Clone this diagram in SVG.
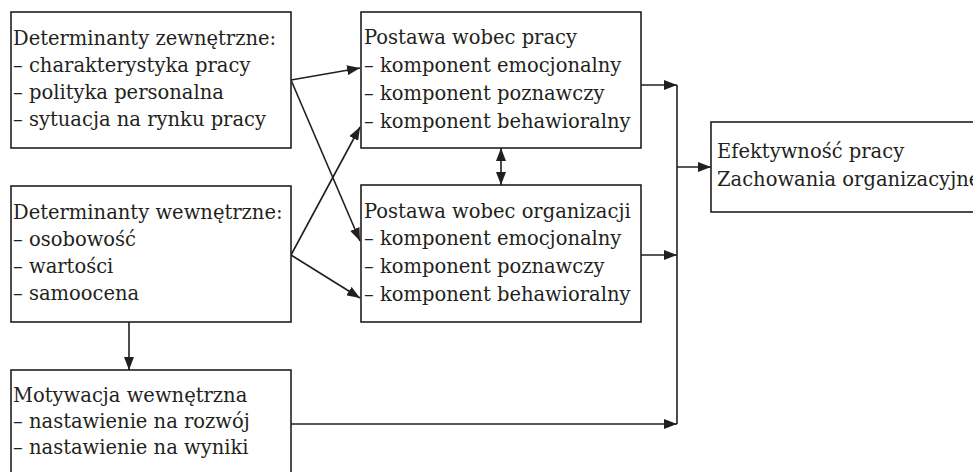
<svg xmlns="http://www.w3.org/2000/svg" width="973" height="472" viewBox="0 0 973 472">
<style>
.box{fill:#fff;stroke:#231f20;stroke-width:1.6}
.t{font-family:"DejaVu Serif","Liberation Serif",serif;font-size:19.5px;fill:#231f20}
.c{fill:none;stroke:#231f20;stroke-width:1.6}
</style>
<defs>
<marker id="ah" viewBox="0 0 13 10" refX="13" refY="5" markerWidth="13" markerHeight="10" markerUnits="userSpaceOnUse" orient="auto-start-reverse">
<path d="M0,0 L13,5 L0,10 z" fill="#231f20"/>
</marker>
</defs>
<rect width="973" height="472" fill="#fff"/>
<g id="connectors">
<line class="c" x1="291" y1="80" x2="360" y2="68" marker-end="url(#ah)"/>
<line class="c" x1="291" y1="80" x2="360" y2="241" marker-end="url(#ah)"/>
<line class="c" x1="291" y1="255" x2="360" y2="127" marker-end="url(#ah)"/>
<line class="c" x1="291" y1="255" x2="360" y2="298" marker-end="url(#ah)"/>
<line class="c" x1="129" y1="322" x2="129" y2="370" marker-end="url(#ah)"/>
<line class="c" x1="501" y1="148" x2="501" y2="185" marker-start="url(#ah)" marker-end="url(#ah)"/>
<line class="c" x1="641" y1="85" x2="677" y2="85" marker-end="url(#ah)"/>
<line class="c" x1="641" y1="255" x2="677" y2="255" marker-end="url(#ah)"/>
<line class="c" x1="291" y1="424" x2="677" y2="424" marker-end="url(#ah)"/>
<line class="c" x1="677" y1="85" x2="677" y2="424"/>
<line class="c" x1="677" y1="167" x2="711" y2="167" marker-end="url(#ah)"/>
</g>
<g id="zewnetrzne">
<rect class="box" x="11" y="12" width="280" height="136"/>
<text class="t" x="13" y="45">Determinanty zewnętrzne:</text>
<text class="t" x="13" y="72">– charakterystyka pracy</text>
<text class="t" x="13" y="99">– polityka personalna</text>
<text class="t" x="13" y="126">– sytuacja na rynku pracy</text>
</g>
<g id="wewnetrzne">
<rect class="box" x="11" y="186" width="280" height="136"/>
<text class="t" x="13" y="219">Determinanty wewnętrzne:</text>
<text class="t" x="13" y="246">– osobowość</text>
<text class="t" x="13" y="273">– wartości</text>
<text class="t" x="13" y="300">– samoocena</text>
</g>
<g id="motywacja">
<rect class="box" x="11" y="370" width="280" height="120"/>
<text class="t" x="13" y="402">Motywacja wewnętrzna</text>
<text class="t" x="13" y="428">– nastawienie na rozwój</text>
<text class="t" x="13" y="454">– nastawienie na wyniki</text>
</g>
<g id="praca">
<rect class="box" x="361" y="12" width="280" height="136"/>
<text class="t" x="364" y="44">Postawa wobec pracy</text>
<text class="t" x="364" y="72">– komponent emocjonalny</text>
<text class="t" x="364" y="100">– komponent poznawczy</text>
<text class="t" x="364" y="128">– komponent behawioralny</text>
</g>
<g id="organizacja">
<rect class="box" x="361" y="185" width="280" height="137"/>
<text class="t" x="364" y="218">Postawa wobec organizacji</text>
<text class="t" x="364" y="245">– komponent emocjonalny</text>
<text class="t" x="364" y="273">– komponent poznawczy</text>
<text class="t" x="364" y="301">– komponent behawioralny</text>
</g>
<g id="efektywnosc">
<rect class="box" x="711" y="122" width="300" height="90"/>
<text class="t" x="717" y="158">Efektywność pracy</text>
<text class="t" x="717" y="186">Zachowania organizacyjne</text>
</g>
</svg>
